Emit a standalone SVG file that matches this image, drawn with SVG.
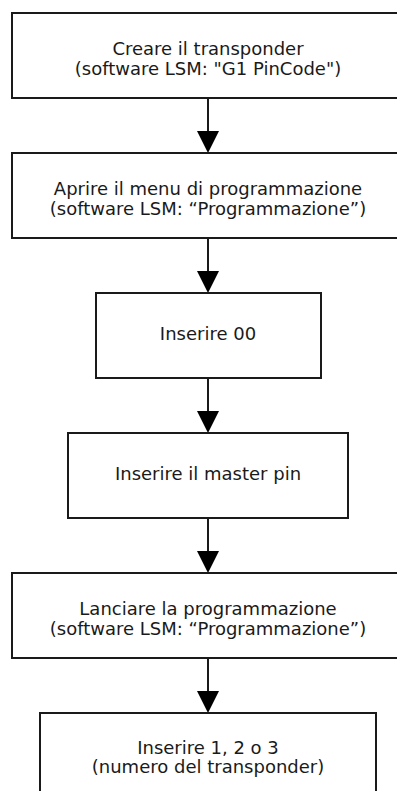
<svg xmlns="http://www.w3.org/2000/svg" width="397" height="791" viewBox="0 0 397 791">
  <style>
    .box { fill: #ffffff; stroke: #1a1a1a; stroke-width: 2; }
    .lbl { font-family: "DejaVu Sans", "Liberation Sans", sans-serif; font-size: 18px; fill: #1a1a1a; text-anchor: middle; }
    .conn { stroke: #1a1a1a; stroke-width: 2; fill: none; marker-end: url(#arrow); }
  </style>
  <defs>
    <marker id="arrow" markerUnits="userSpaceOnUse" markerWidth="22" markerHeight="22" refX="0" refY="11" orient="auto" viewBox="0 0 22 22">
      <path d="M0,0 L22,11 L0,22 z" fill="#000000"/>
    </marker>
  </defs>
  <rect x="0" y="0" width="397" height="791" fill="#ffffff"/>
  <g id="connectors">
    <line class="conn" x1="208" y1="98" x2="208" y2="131"/>
    <line class="conn" x1="208" y1="238" x2="208" y2="271"/>
    <line class="conn" x1="208" y1="378" x2="208" y2="411"/>
    <line class="conn" x1="208" y1="518" x2="208" y2="551"/>
    <line class="conn" x1="208" y1="658" x2="208" y2="691"/>
  </g>
  <g id="node1">
    <rect class="box" x="12" y="13" width="392" height="85"/>
    <text class="lbl" x="208" y="55">Creare il transponder</text>
    <text class="lbl" x="208" y="74.5">(software LSM: "G1 PinCode")</text>
  </g>
  <g id="node2">
    <rect class="box" x="12" y="153" width="392" height="85"/>
    <text class="lbl" x="208" y="195">Aprire il menu di programmazione</text>
    <text class="lbl" x="208" y="214.5">(software LSM: “Programmazione”)</text>
  </g>
  <g id="node3">
    <rect class="box" x="96" y="293" width="225" height="85"/>
    <text class="lbl" x="208" y="340">Inserire 00</text>
  </g>
  <g id="node4">
    <rect class="box" x="68" y="433" width="280" height="85"/>
    <text class="lbl" x="208" y="479.5">Inserire il master pin</text>
  </g>
  <g id="node5">
    <rect class="box" x="12" y="573" width="392" height="85"/>
    <text class="lbl" x="208" y="615">Lanciare la programmazione</text>
    <text class="lbl" x="208" y="634.5">(software LSM: “Programmazione”)</text>
  </g>
  <g id="node6">
    <rect class="box" x="40" y="713" width="336" height="85"/>
    <text class="lbl" x="208" y="754">Inserire 1, 2 o 3</text>
    <text class="lbl" x="208" y="773">(numero del transponder)</text>
  </g>
</svg>
